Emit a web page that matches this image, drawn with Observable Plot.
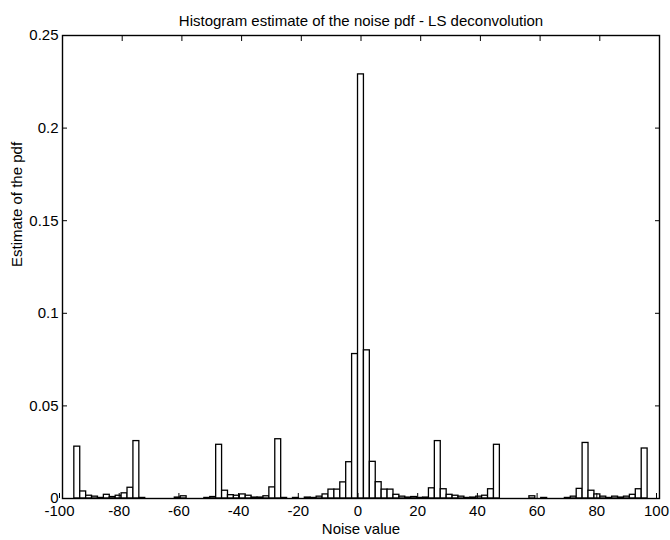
<!DOCTYPE html>
<html><head><meta charset="utf-8">
<script src="https://cdn.jsdelivr.net/npm/d3@7"></script>
<script src="https://cdn.jsdelivr.net/npm/@observablehq/plot@0.6"></script>
<style>body{margin:0;background:#fff} svg{display:block}</style>
</head><body><div id="chart"></div>
<script>
// Bin centres of the 101-bin histogram over [-100, 100]
const binCenters = [
  -99.01, -97.03, -95.05, -93.07, -91.09, -89.11, -87.13, -85.15, -83.17, -81.19,
  -79.21, -77.23, -75.25, -73.27, -71.29, -69.31, -67.33, -65.35, -63.37, -61.39,
  -59.41, -57.43, -55.45, -53.47, -51.49, -49.51, -47.53, -45.55, -43.57, -41.59,
  -39.61, -37.63, -35.65, -33.67, -31.69, -29.71, -27.73, -25.75, -23.77, -21.79,
  -19.81, -17.83, -15.85, -13.87, -11.89, -9.91, -7.93, -5.95, -3.97, -1.99,
  -0.01, 1.97, 3.95, 5.93, 7.91, 9.89, 11.87, 13.85, 15.83, 17.81,
  19.79, 21.77, 23.75, 25.73, 27.71, 29.69, 31.67, 33.65, 35.63, 37.61,
  39.59, 41.57, 43.55, 45.53, 47.51, 49.49, 51.47, 53.45, 55.43, 57.41,
  59.39, 61.37, 63.35, 65.33, 67.31, 69.29, 71.27, 73.25, 75.23, 77.21,
  79.19, 81.17, 83.15, 85.13, 87.11, 89.09, 91.07, 93.05, 95.03, 97.01,
  98.99
];
// Estimated pdf value of each bin
const pdfValues = [
  0, 0, 0.028, 0.0038, 0.0015, 0.0010, 0.0003, 0.0020, 0.0008, 0.0015,
  0.0028, 0.0058, 0.031, 0.0003, 0, 0, 0, 0, 0, 0.0005,
  0.0012, 0, 0, 0, 0.0003, 0.0008, 0.029, 0.0042, 0.0018, 0.0015,
  0.0022, 0.0015, 0.0005, 0.0005, 0.0012, 0.0060, 0.032, 0.0003, 0, 0.0003,
  0, 0.0005, 0.0003, 0.0010, 0.0022, 0.0048, 0.0048, 0.0087, 0.0196, 0.078,
  0.229, 0.080, 0.0198, 0.0088, 0.0048, 0.0048, 0.0020, 0.0010, 0.0005, 0.0008,
  0.0003, 0.0005, 0.0055, 0.031, 0.0050, 0.0020, 0.0015, 0.0010, 0.0003, 0.0005,
  0.0010, 0.0015, 0.0050, 0.029, 0, 0, 0, 0, 0, 0.0012,
  0, 0.0003, 0, 0, 0, 0.0003, 0.0010, 0.0052, 0.030, 0.0042,
  0.0022, 0.0010, 0.0003, 0.0010, 0.0005, 0.0010, 0.0020, 0.0050, 0.027, 0,
  0
];
const binWidth = 1.98;
const xTicks = [-100, -80, -60, -40, -20, 0, 20, 40, 60, 80, 100];
const xTickLabels = ["-100", "-80", "-60", "-40", "-20", "0", "20", "40", "60", "80", "100"];
const yTicks = [0, 0.05, 0.1, 0.15, 0.2, 0.25];
const yTickLabels = ["0", "0.05", "0.1", "0.15", "0.2", "0.25"];
const titleText = "Histogram estimate of the noise pdf - LS deconvolution";
const xLabel = "Noise value";
const yLabel = "Estimate of the pdf";

const bars = binCenters.map((c, i) => ({x1: c - binWidth / 2, x2: c + binWidth / 2, y: pdfValues[i]}));
const xFmt = d => xTickLabels[xTicks.indexOf(d)];
const yFmt = d => yTickLabels[yTicks.indexOf(d)];

const font = "'Liberation Sans', Arial, Helvetica, sans-serif";
const chart = Plot.plot({
  width: 670, height: 540,
  marginLeft: 62, marginRight: 11, marginTop: 35, marginBottom: 42,
  style: {fontFamily: font, fontSize: "15px", background: "white", color: "black", overflow: "visible"},
  x: {domain: [-100, 100]},
  y: {domain: [0, 0.25]},
  marks: [
    Plot.rectY(bars, {x1: "x1", x2: "x2", y: "y", fill: "white", stroke: "black", strokeWidth: 1.3}),
    Plot.frame({stroke: "black", strokeWidth: 1.4}),
    Plot.axisX(xTicks, {anchor: "bottom", tickSize: -5, tickPadding: 12, tickFormat: xFmt, label: null, fontSize: 15, dx: -3}),
    Plot.axisX(xTicks, {anchor: "top", tickSize: -5, tickFormat: () => "", label: null}),
    Plot.axisY(yTicks, {anchor: "left", tickSize: -5, tickPadding: 9, tickFormat: yFmt, label: null, fontSize: 15}),
    Plot.axisY(yTicks, {anchor: "right", tickSize: -5, tickFormat: () => "", label: null}),
    Plot.text([titleText], {frameAnchor: "top", dy: -10, lineAnchor: "bottom", fontSize: 15}),
    Plot.text([xLabel], {frameAnchor: "bottom", dy: 25, lineAnchor: "top", fontSize: 15}),
    Plot.text([yLabel], {frameAnchor: "left", dx: -45, rotate: -90, fontSize: 15})
  ]
});
document.getElementById("chart").appendChild(chart);
</script>
</body></html>
